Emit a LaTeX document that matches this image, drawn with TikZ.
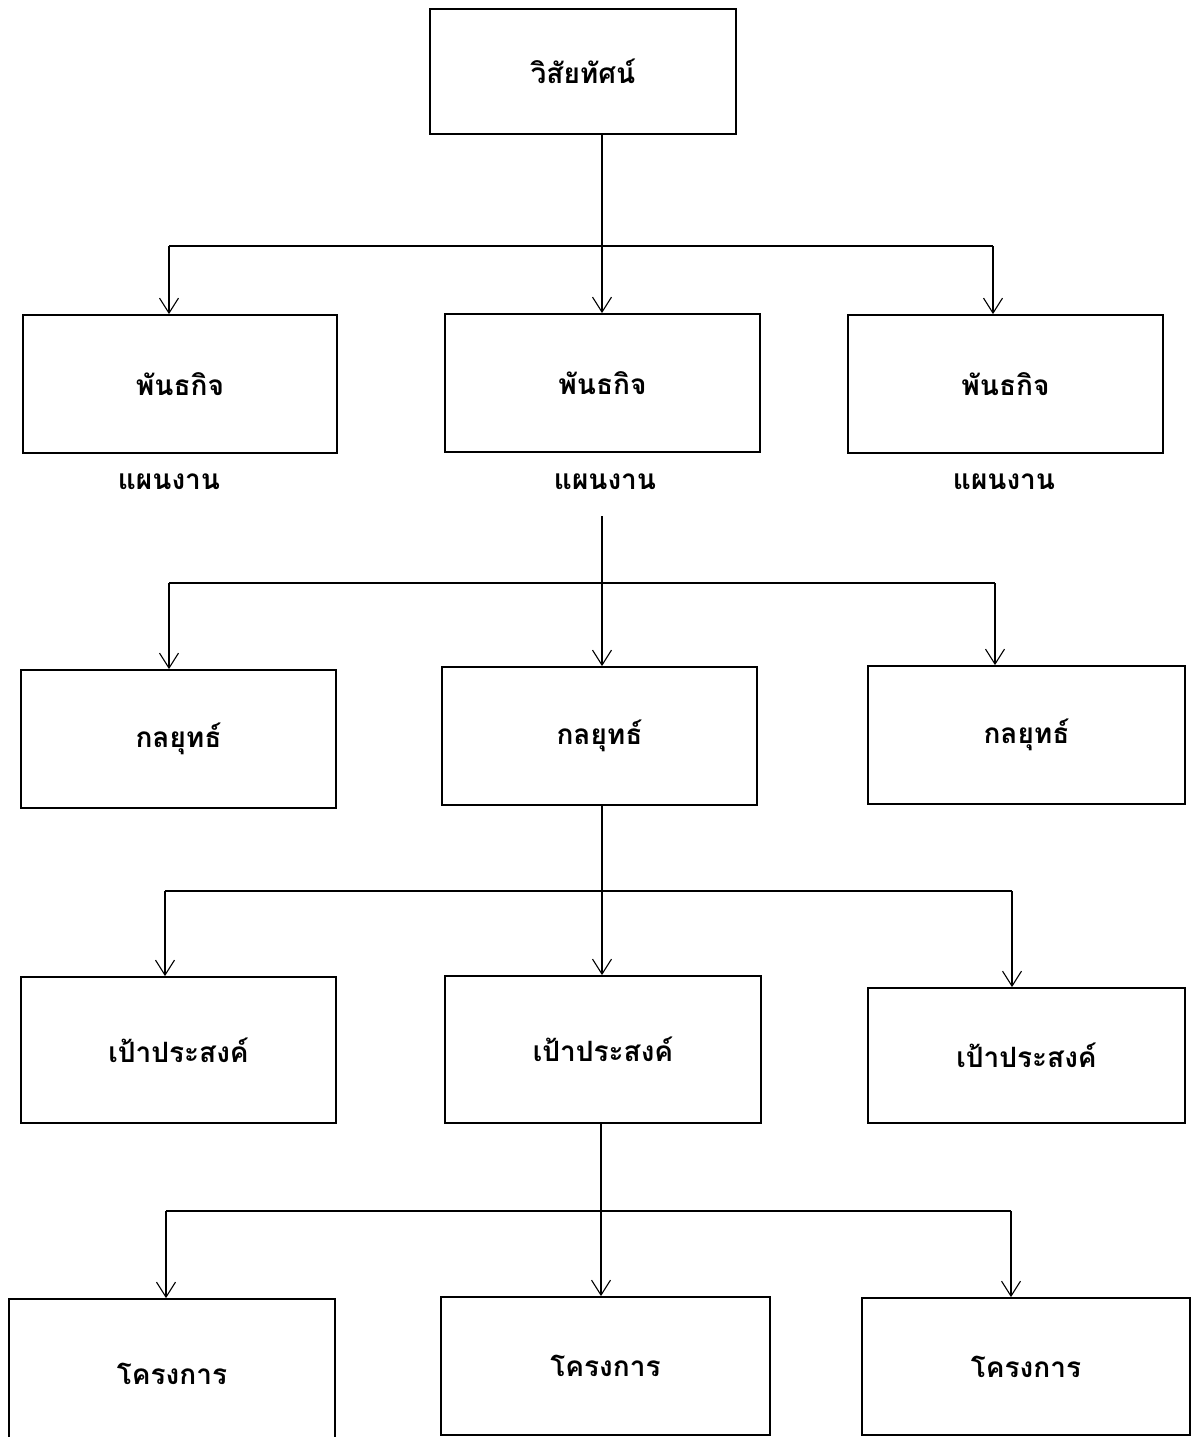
\documentclass[tikz,border=0pt]{standalone}
\usepackage{fontspec}
\newfontfamily\thaifont[Script=Thai]{Loma}
\usetikzlibrary{arrows.meta}
\begin{document}
\begin{tikzpicture}[x=1pt,y=-1pt,
  box/.style={draw=black, line width=1.8pt, rectangle, inner sep=0pt, font=\thaifont\bfseries\fontsize{28}{32}\selectfont},
  lbl/.style={inner sep=0pt, font=\thaifont\bfseries\fontsize{28}{32}\selectfont},
  conn/.style={draw=black, line width=1.1pt},
  arr/.style={conn, -{Straight Barb[length=15pt,width=19pt,line width=1.1pt]}}]
\useasboundingbox (0,0) rectangle (1192,1437);
% level 0
\node[box, minimum width=306pt, minimum height=125pt] (vis) at (583,71.5) {วิสัยทัศน์};
% level 1
\node[box, minimum width=314pt, minimum height=138pt] (m1) at (180,384) {พันธกิจ};
\node[box, minimum width=315pt, minimum height=138pt] (m2) at (602.5,383) {พันธกิจ};
\node[box, minimum width=315pt, minimum height=138pt] (m3) at (1005.5,384) {พันธกิจ};
\node[lbl] (pl1) at (169,482) {แผนงาน};
\node[lbl] (pl2) at (605,482) {แผนงาน};
\node[lbl] (pl3) at (1004,482) {แผนงาน};
% level 2
\node[box, minimum width=315pt, minimum height=138pt] (s1) at (178.5,739) {กลยุทธ์};
\node[box, minimum width=315pt, minimum height=138pt] (s2) at (599.5,736) {กลยุทธ์};
\node[box, minimum width=317pt, minimum height=138pt] (s3) at (1026.5,735) {กลยุทธ์};
% level 3
\node[box, minimum width=315pt, minimum height=146pt] (o1) at (178.5,1050) {เป้าประสงค์};
\node[box, minimum width=316pt, minimum height=147pt] (o2) at (603,1049.5) {เป้าประสงค์};
\node[box, minimum width=317pt, minimum height=135pt] (o3) at (1026.5,1055.5) {เป้าประสงค์};
% level 4
\node[box, minimum width=326pt, minimum height=150pt] (p1) at (172,1374) {โครงการ};
\node[box, minimum width=329pt, minimum height=138pt] (p2) at (605.5,1366) {โครงการ};
\node[box, minimum width=328pt, minimum height=137pt] (p3) at (1026,1366.5) {โครงการ};
% connectors level 1
\coordinate (t1) at (602,134);
\coordinate (a1L) at (169,246);
\coordinate (a1R) at (993,246);
\draw[arr] (t1) -- (t1 |- m2.north);
\draw[conn] (a1L) -- (a1R);
\draw[arr] (a1L) -- (a1L |- m1.north);
\draw[arr] (a1R) -- (a1R |- m3.north);
% connectors level 2
\coordinate (t2) at (602,516);
\coordinate (a2L) at (169,583);
\coordinate (a2R) at (995,583);
\draw[arr] (t2) -- (t2 |- s2.north);
\draw[conn] (a2L) -- (a2R);
\draw[arr] (a2L) -- (a2L |- s1.north);
\draw[arr] (a2R) -- (a2R |- s3.north);
% connectors level 3
\coordinate (t3) at (602,805);
\coordinate (a3L) at (165,891);
\coordinate (a3R) at (1012,891);
\draw[arr] (t3) -- (t3 |- o2.north);
\draw[conn] (a3L) -- (a3R);
\draw[arr] (a3L) -- (a3L |- o1.north);
\draw[arr] (a3R) -- (a3R |- o3.north);
% connectors level 4
\coordinate (t4) at (601,1123);
\coordinate (a4L) at (166,1211);
\coordinate (a4R) at (1011,1211);
\draw[arr] (t4) -- (t4 |- p2.north);
\draw[conn] (a4L) -- (a4R);
\draw[arr] (a4L) -- (a4L |- p1.north);
\draw[arr] (a4R) -- (a4R |- p3.north);
\end{tikzpicture}
\end{document}
